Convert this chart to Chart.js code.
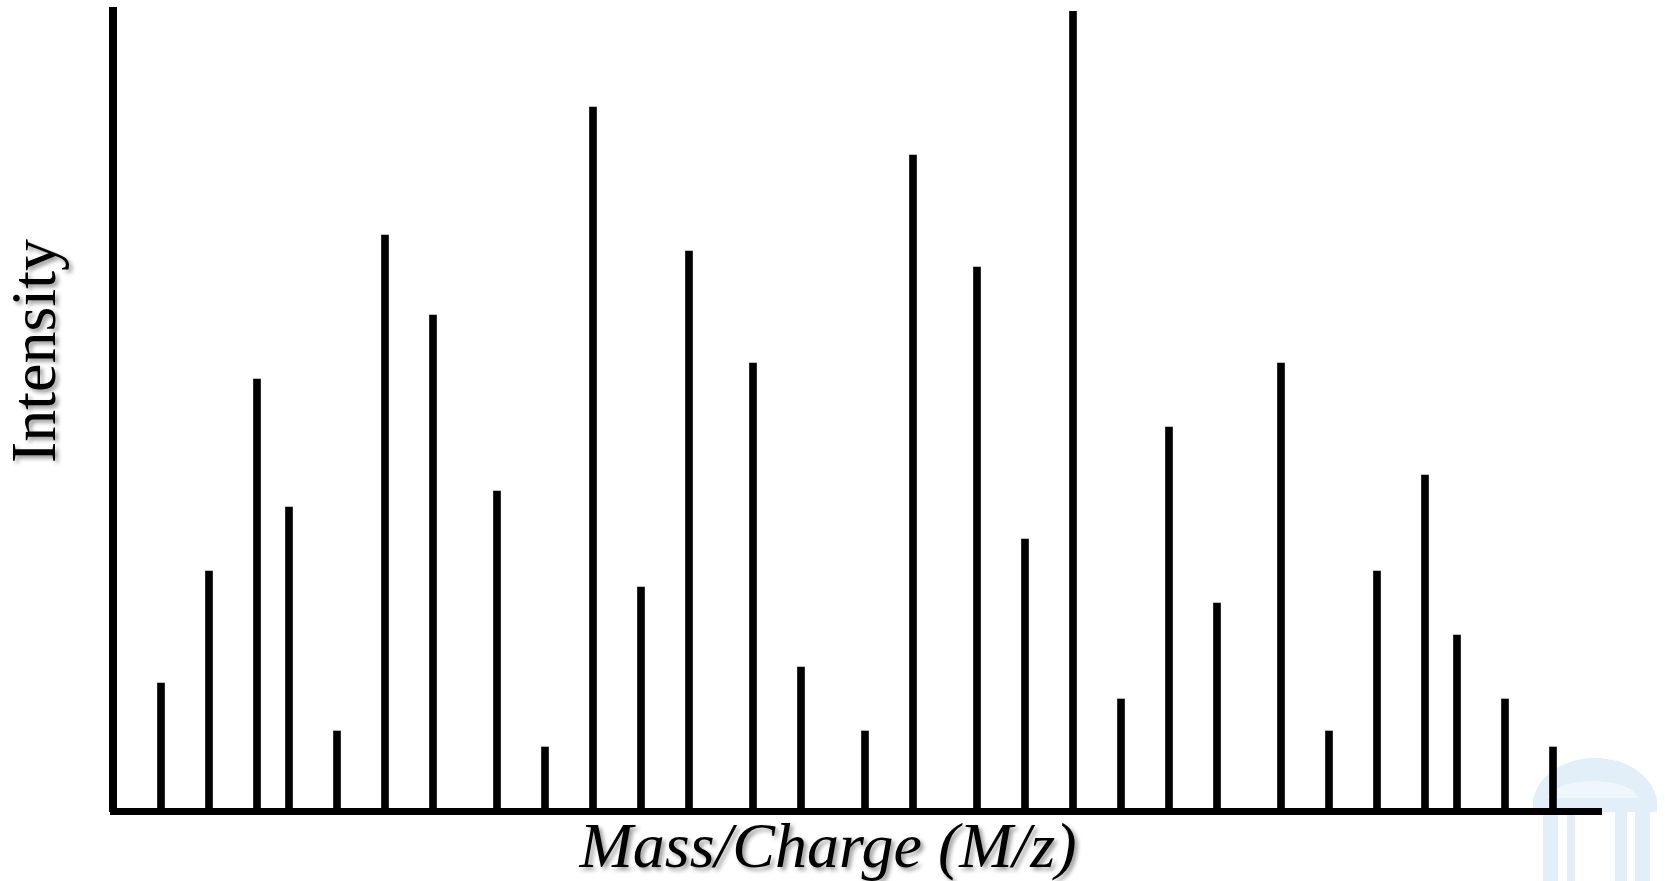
<!DOCTYPE html>
<html>
<head>
<meta charset="utf-8">
<title>Mass spectrum</title>
<script src="https://cdn.jsdelivr.net/npm/chart.js@4/dist/chart.umd.min.js"></script>
<style>
    body { margin: 0; background: #ffffff; }
    canvas { display: block; }
</style>
</head>
<body>
<canvas id="myChart" width="1665" height="881"></canvas>
<script>
// Peak positions (m/z, arbitrary units) and their intensities
const massCharge = [3, 6, 9, 11, 14, 17, 20, 24, 27, 30, 33, 36, 40, 43, 47, 50, 54, 57, 60, 63, 66, 69, 73, 76, 79, 82, 84, 87, 90];
const intensity = [8, 15, 27, 19, 5, 36, 31, 20, 4, 44, 14, 35, 28, 9, 5, 41, 34, 17, 50, 7, 24, 13, 28, 5, 15, 21, 11, 7, 4];

// Axis ranges and labels
const xRange = [0, 93];
const yRange = [0, 50];
const xLabel = 'Mass/Charge (M/z)';
const yLabel = 'Intensity';

const peaks = massCharge.map((m, i) => ({ x: m, y: intensity[i] }));

// faint logo in the bottom right corner, drawn before axes and peaks
const watermark = {
    id: 'watermark',
    beforeDraw(chart) {
        const ctx = chart.ctx;
        const a = chart.chartArea;
        const x0 = a.right - 68;
        const y0 = a.bottom;
        ctx.save();
        ctx.fillStyle = 'rgb(226, 239, 248)';
        ctx.beginPath();
        ctx.ellipse(x0 + 62, y0 - 6, 62, 47, 0, Math.PI, 2 * Math.PI);
        ctx.fill();
        ctx.fillStyle = 'rgb(240, 247, 252)';
        ctx.beginPath();
        ctx.ellipse(x0 + 60, y0 - 10, 46, 20, 0, Math.PI, 2 * Math.PI);
        ctx.fill();
        ctx.fillStyle = 'rgb(226, 239, 248)';
        ctx.fillRect(x0, y0 - 13, 124, 14);
        [[10, 15], [34, 8], [82, 12], [102, 15]].forEach(c => ctx.fillRect(x0 + c[0], y0 + 1, c[1], 80));
        ctx.restore();
    }
};

// axis titles with a soft grey shadow
const axisTitles = {
    id: 'axisTitles',
    afterDraw(chart) {
        const ctx = chart.ctx;
        const a = chart.chartArea;
        ctx.save();
        ctx.fillStyle = '#000000';
        ctx.shadowColor = 'rgba(0, 0, 0, 0.4)';
        ctx.shadowOffsetX = 3;
        ctx.shadowOffsetY = 3;
        ctx.shadowBlur = 4;
        ctx.textAlign = 'center';
        ctx.textBaseline = 'alphabetic';

        ctx.font = 'italic 64px "Liberation Serif", "DejaVu Serif", serif';
        ctx.fillText(xLabel, a.left + 715, a.bottom + 56);

        ctx.font = '64px "Liberation Serif", "DejaVu Serif", serif';
        ctx.translate(a.left - 58, a.top + 340);
        ctx.rotate(-Math.PI / 2);
        ctx.fillText(yLabel, 0, 0);
        ctx.restore();
    }
};

const ctx = document.getElementById('myChart').getContext('2d');
const myChart = new Chart(ctx, {
    type: 'bar',
    data: {
        datasets: [{
            label: yLabel,
            data: peaks,
            backgroundColor: '#000000',
            borderWidth: 0,
            barThickness: 7
        }]
    },
    options: {
        responsive: false,
        animation: false,
        events: [],
        layout: {
            padding: { left: 113, right: 64, top: 11, bottom: 70 }
        },
        plugins: {
            legend: { display: false },
            tooltip: { enabled: false }
        },
        scales: {
            x: {
                type: 'linear',
                min: xRange[0],
                max: xRange[1],
                offset: false,
                ticks: { display: false },
                grid: { display: false, drawTicks: false },
                border: { display: true, color: '#000000', width: 7 }
            },
            y: {
                min: yRange[0],
                max: yRange[1],
                ticks: { display: false },
                grid: { display: false, drawTicks: false },
                border: { display: true, color: '#000000', width: 8 }
            }
        }
    },
    plugins: [watermark, axisTitles]
});
</script>
</body>
</html>
